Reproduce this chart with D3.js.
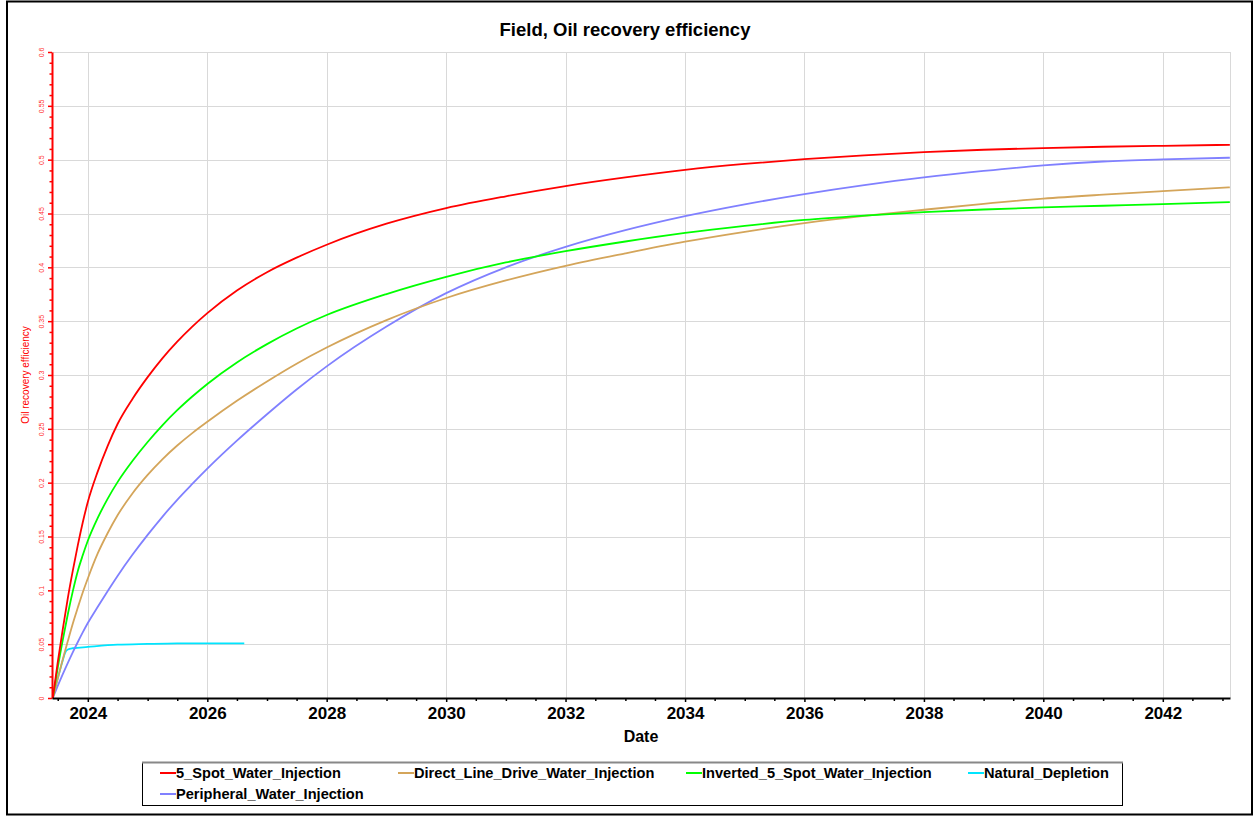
<!doctype html>
<html>
<head>
<meta charset="utf-8">
<script src="https://d3js.org/d3.v7.min.js"></script>
<style>
  body { margin: 0; background: #fff; }
  svg { font-family: "Liberation Sans", Arial, sans-serif; }
</style>
</head>
<body>
<svg id="chart" width="1257" height="817"></svg>
<script>
// ---- data ----
var dates = ["2023-06-01","2023-07-01","2023-08-01","2023-09-01","2023-10-01","2023-11-01","2023-12-01",
  "2024-01-01","2024-03-01","2024-05-01","2024-07-01","2024-10-01",
  "2025-01-01","2025-04-01","2025-07-01","2025-10-01","2026-01-01","2026-07-01","2027-01-01","2027-07-01",
  "2028-01-01","2029-01-01","2030-01-01","2031-01-01","2032-01-01","2033-01-01","2034-01-01","2035-01-01",
  "2036-01-01","2037-01-01","2038-01-01","2039-01-01","2040-01-01","2041-01-01","2042-01-01","2043-02-15"];

var fiveSpot = [0, 0.033, 0.064, 0.093, 0.118, 0.142, 0.163, 0.182, 0.21, 0.234, 0.2545, 0.278,
  0.298, 0.3155, 0.331, 0.345, 0.3575, 0.3785, 0.3955, 0.409, 0.421, 0.4405, 0.455, 0.466, 0.4755,
  0.4835, 0.4905, 0.496, 0.5005, 0.504, 0.507, 0.5092, 0.5108, 0.512, 0.5129, 0.5138];

var directLine = [0, 0.018, 0.036, 0.053, 0.069, 0.084, 0.098, 0.111, 0.134, 0.153, 0.1697, 0.1902,
  0.2072, 0.2217, 0.2345, 0.246, 0.2565, 0.276, 0.294, 0.3105, 0.3255, 0.351, 0.3715, 0.3878, 0.4014,
  0.413, 0.4238, 0.433, 0.441, 0.4477, 0.4535, 0.459, 0.4638, 0.4675, 0.4708, 0.4743];

var inverted = [0, 0.028, 0.054, 0.078, 0.099, 0.118, 0.1325, 0.146, 0.167, 0.185, 0.2005, 0.2203,
  0.2378, 0.2533, 0.2673, 0.28, 0.2917, 0.3117, 0.3287, 0.3432, 0.3557, 0.3752, 0.3912, 0.4045,
  0.415, 0.424, 0.432, 0.4385, 0.444, 0.448, 0.4513, 0.4537, 0.4556, 0.4572, 0.4588, 0.4605];

var peripheral = [0, 0.0112, 0.0222, 0.0327, 0.0424, 0.052, 0.0609, 0.0696, 0.0845, 0.0992, 0.1134,
  0.1332, 0.1515, 0.1683, 0.1841, 0.1988, 0.213, 0.239, 0.2635, 0.2865, 0.308, 0.345, 0.376, 0.4,
  0.419, 0.4345, 0.4475, 0.4585, 0.468, 0.4763, 0.4835, 0.4895, 0.4947, 0.4983, 0.5003, 0.5018];

var depletionDates = ["2023-06-01","2023-06-15","2023-07-01","2023-07-15","2023-08-01","2023-08-15",
  "2023-09-01","2023-10-01","2024-01-01","2024-07-01","2025-01-01","2025-07-01","2026-01-01","2026-08-15"];
var depletion = [0, 0.009, 0.018, 0.026, 0.035, 0.042, 0.045, 0.0462, 0.0474, 0.0495, 0.0502,
  0.0507, 0.0508, 0.0508];

var seriesNames = ["5_Spot_Water_Injection", "Direct_Line_Drive_Water_Injection",
  "Inverted_5_Spot_Water_Injection", "Natural_Depletion", "Peripheral_Water_Injection"];
var seriesColors = ["#ff0000", "#d4a55a", "#00ff00", "#00e5ff", "#8080ff"];

var yTicks = [0, 0.05, 0.1, 0.15, 0.2, 0.25, 0.3, 0.35, 0.4, 0.45, 0.5, 0.55, 0.6];
var xTickYears = [2024, 2026, 2028, 2030, 2032, 2034, 2036, 2038, 2040, 2042];

function draw() {
  var svg = d3.select("#chart"),
    plotLeft = 52, plotRight = 1230, plotTop = 52, plotBottom = 698;

  var x = d3.scaleUtc()
    .domain([new Date("2023-05-27"), new Date("2043-02-16")])
    .range([plotLeft, plotRight]);
  var y = d3.scaleLinear().domain([0, 0.6]).range([plotBottom, plotTop]);

  // outer frame
  svg.append("rect")
    .attr("x", 7).attr("y", 1.5).attr("width", 1245).attr("height", 813)
    .attr("fill", "none").attr("stroke", "#000").attr("stroke-width", 2);

  // title
  svg.append("text")
    .attr("x", 625).attr("y", 36)
    .attr("text-anchor", "middle")
    .style("font-size", "18.5px").style("font-weight", "bold")
    .text("Field, Oil recovery efficiency");

  // grid
  var xMajorDates = xTickYears.map(function(yr){ return new Date(Date.UTC(yr, 0, 1)); });
  var grid = svg.append("g").attr("stroke", "#d9d9d9").attr("stroke-width", 1);
  grid.selectAll(".gx")
    .data(xMajorDates)
    .enter().append("line")
    .attr("x1", function(d){ return Math.round(x(d)) + 0.5; })
    .attr("x2", function(d){ return Math.round(x(d)) + 0.5; })
    .attr("y1", plotTop).attr("y2", plotBottom);
  grid.append("line")
    .attr("x1", plotRight + 0.5).attr("x2", plotRight + 0.5)
    .attr("y1", plotTop).attr("y2", plotBottom);
  grid.selectAll(".gy")
    .data(yTicks)
    .enter().append("line")
    .attr("x1", plotLeft).attr("x2", plotRight)
    .attr("y1", function(d){ return Math.round(y(d)) + 0.5; })
    .attr("y2", function(d){ return Math.round(y(d)) + 0.5; });

  // series
  var parse = d3.utcParse("%Y-%m-%d");
  var allSeries = [
    { name: seriesNames[0], color: seriesColors[0], dates: dates, values: fiveSpot },
    { name: seriesNames[1], color: seriesColors[1], dates: dates, values: directLine },
    { name: seriesNames[2], color: seriesColors[2], dates: dates, values: inverted },
    { name: seriesNames[3], color: seriesColors[3], dates: depletionDates, values: depletion },
    { name: seriesNames[4], color: seriesColors[4], dates: dates, values: peripheral }
  ];

  var line = d3.line()
    .x(function(d){ return x(d[0]); })
    .y(function(d){ return y(d[1]); })
    .curve(d3.curveMonotoneX);

  // red on top, like the reference
  [3, 4, 1, 2, 0].forEach(function(i) {
    var s = allSeries[i];
    var pts = s.dates.map(function(d, j){ return [parse(d), s.values[j]]; });
    svg.append("path")
      .datum(pts)
      .attr("fill", "none")
      .attr("stroke", s.color)
      .attr("stroke-width", 1.8)
      .attr("d", line);
  });

  // y axis (red)
  var yMinor = d3.range(0, 61).map(function(i){ return i / 100; })
    .filter(function(v){ return Math.round(v * 100) % 5 !== 0; });

  var yAxisMinor = svg.append("g")
    .attr("transform", "translate(" + plotLeft + ",0)")
    .call(d3.axisLeft(y).tickValues(yMinor).tickSize(2.5).tickFormat(""));
  yAxisMinor.select(".domain").remove();
  yAxisMinor.selectAll("line").attr("stroke", "#ff0000").attr("stroke-width", 1.5);

  var yAxis = svg.append("g")
    .attr("transform", "translate(" + plotLeft + ",0)")
    .call(d3.axisLeft(y).tickValues(yTicks).tickSize(4).tickSizeOuter(0)
          .tickFormat(function(d){ return String(+d.toFixed(2)); }));
  yAxis.select(".domain").attr("stroke", "#ff0000").attr("stroke-width", 2);
  yAxis.selectAll("line").attr("stroke", "#ff0000").attr("stroke-width", 1.5);
  yAxis.selectAll("text")
    .attr("x", 0).attr("y", -8.5).attr("dy", 0)
    .attr("transform", "rotate(-90)")
    .style("text-anchor", "middle")
    .style("font-size", "7px")
    .attr("fill", "#ff3030");

  svg.append("text")
    .attr("transform", "translate(29," + ((plotTop + plotBottom) / 2) + ") rotate(-90)")
    .attr("text-anchor", "middle")
    .attr("fill", "#ff0000")
    .style("font-size", "10px")
    .text("Oil recovery efficiency");

  // x axis (black), minor ticks every half year
  var xMinor = [];
  for (var yr = 2023; yr <= 2043; yr++) {
    if (yr % 2 === 1) xMinor.push(new Date(Date.UTC(yr, 0, 1)));
    if (yr < 2043) xMinor.push(new Date(Date.UTC(yr, 6, 1)));
  }
  xMinor = xMinor.filter(function(d){ return x(d) >= plotLeft && x(d) <= plotRight; });

  var xAxisMinor = svg.append("g")
    .attr("transform", "translate(0," + plotBottom + ")")
    .call(d3.axisBottom(x).tickValues(xMinor).tickSize(3).tickFormat(""));
  xAxisMinor.select(".domain").remove();
  xAxisMinor.selectAll("line").attr("stroke", "#000").attr("stroke-width", 1.5);

  var xAxis = svg.append("g")
    .attr("transform", "translate(0," + plotBottom + ")")
    .call(d3.axisBottom(x).tickValues(xMajorDates).tickSize(4).tickSizeOuter(0)
          .tickFormat(d3.utcFormat("%Y")));
  xAxis.select(".domain").attr("stroke", "#000").attr("stroke-width", 2);
  xAxis.selectAll("line").attr("stroke", "#000").attr("stroke-width", 1.5);
  xAxis.selectAll("text")
    .attr("y", 9)
    .attr("fill", "#000")
    .style("font-size", "17px")
    .style("font-weight", "bold");

  svg.append("text")
    .attr("x", 641).attr("y", 742)
    .attr("text-anchor", "middle")
    .style("font-size", "16px").style("font-weight", "bold")
    .text("Date");

  // legend
  var legend = svg.append("g");
  legend.append("rect")
    .attr("x", 142.5).attr("y", 762.5).attr("width", 980).attr("height", 43)
    .attr("fill", "#fff").attr("stroke", "#000").attr("stroke-width", 1);
  legend.append("line")
    .attr("x1", 142).attr("x2", 1123).attr("y1", 762.5).attr("y2", 762.5)
    .attr("stroke", "#888").attr("stroke-width", 2);

  var legendPos = [[160, 773], [398, 773], [686, 773], [968, 773], [160, 794]];
  allSeries.forEach(function(s, i) {
    var p = legendPos[i];
    var item = legend.append("g").attr("transform", "translate(" + p[0] + "," + p[1] + ")");
    item.append("line")
      .attr("x1", 0).attr("x2", 16).attr("y1", 0).attr("y2", 0)
      .attr("stroke", s.color).attr("stroke-width", 2);
    item.append("text")
      .attr("x", 16).attr("y", 0).attr("dy", "0.35em")
      .style("font-size", "14.6px").style("font-weight", "bold")
      .text(s.name);
  });
}

draw();
</script>
</body>
</html>
